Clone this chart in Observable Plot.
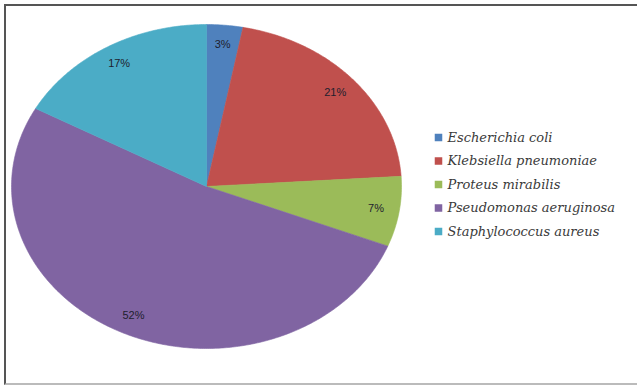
<!DOCTYPE html>
<html>
<head>
<meta charset="utf-8">
<script src="https://cdn.jsdelivr.net/npm/d3@7"></script>
<script src="https://cdn.jsdelivr.net/npm/@observablehq/plot@0.6"></script>
<style>
  html, body { margin: 0; padding: 0; background: #fff; }
  #wrap { position: relative; width: 637px; height: 386px; overflow: hidden; }
  #frame { position: absolute; left: 4px; top: 4px; width: 650px; height: 377px;
           border-top: 2px solid #555; border-left: 2px solid #555; border-bottom: 2px solid #bbb; }
  #chart { position: absolute; left: 0; top: 0; }
</style>
</head>
<body>
<div id="wrap"><div id="frame"></div><div id="chart"></div></div>
<script>
const categories = ["Escherichia coli", "Klebsiella pneumoniae", "Proteus mirabilis", "Pseudomonas aeruginosa", "Staphylococcus aureus"];
const values = [3, 21, 7, 52, 17];
const labels = ["3%", "21%", "7%", "52%", "17%"];
const colors = ["#4F81BD", "#C0504D", "#9BBB59", "#8064A2", "#4BACC6"];

const W = 637, H = 386;
const cx = 206, cy = 186, rx = 195, ry = 162;
const labelFactor = 0.88;

const arcs = d3.pie().sort(null).value(d => d.value)(categories.map((name, i) => ({name, value: values[i], label: labels[i]})));

const slicePts = [];
arcs.forEach(a => {
  const n = Math.max(4, Math.ceil((a.endAngle - a.startAngle) / 0.01));
  slicePts.push({name: a.data.name, x: cx, y: cy});
  for (let k = 0; k <= n; k++) {
    const t = a.startAngle + (a.endAngle - a.startAngle) * k / n;
    slicePts.push({name: a.data.name, x: cx + rx * Math.sin(t), y: cy - ry * Math.cos(t)});
  }
  slicePts.push({name: a.data.name, x: cx, y: cy});
});

const labelPts = arcs.map(a => {
  const t = (a.startAngle + a.endAngle) / 2;
  return {label: a.data.label, x: cx + labelFactor * rx * Math.sin(t), y: cy - labelFactor * ry * Math.cos(t)};
});

const legendPts = categories.map((name, i) => ({name, x: 438, y: 137 + i * 23.5}));

const plot = Plot.plot({
  width: W, height: H,
  margin: 0,
  x: {domain: [0, W], range: [0, W], axis: null},
  y: {domain: [0, H], range: [0, H], axis: null},
  color: {domain: categories, range: colors},
  style: {background: "transparent"},
  marks: [
    Plot.line(slicePts, {x: "x", y: "y", z: "name", fill: "name", stroke: "name", strokeWidth: 0.6, curve: "linear"}),
    Plot.text(labelPts, {x: "x", y: "y", text: "label", fill: "#1e1e2e", fontSize: 11, fontFamily: "Liberation Sans, Arial, sans-serif"}),
    Plot.dot(legendPts, {x: "x", y: "y", symbol: "square", r: 3.4, fill: "name", stroke: "name"}),
    Plot.text(legendPts, {x: d => d.x + 9, y: "y", text: "name", textAnchor: "start", fill: "#3a3a3a", fontSize: 13, fontStyle: "italic", fontFamily: "DejaVu Serif, serif"})
  ]
});
document.getElementById("chart").appendChild(plot);
</script>
</body>
</html>
